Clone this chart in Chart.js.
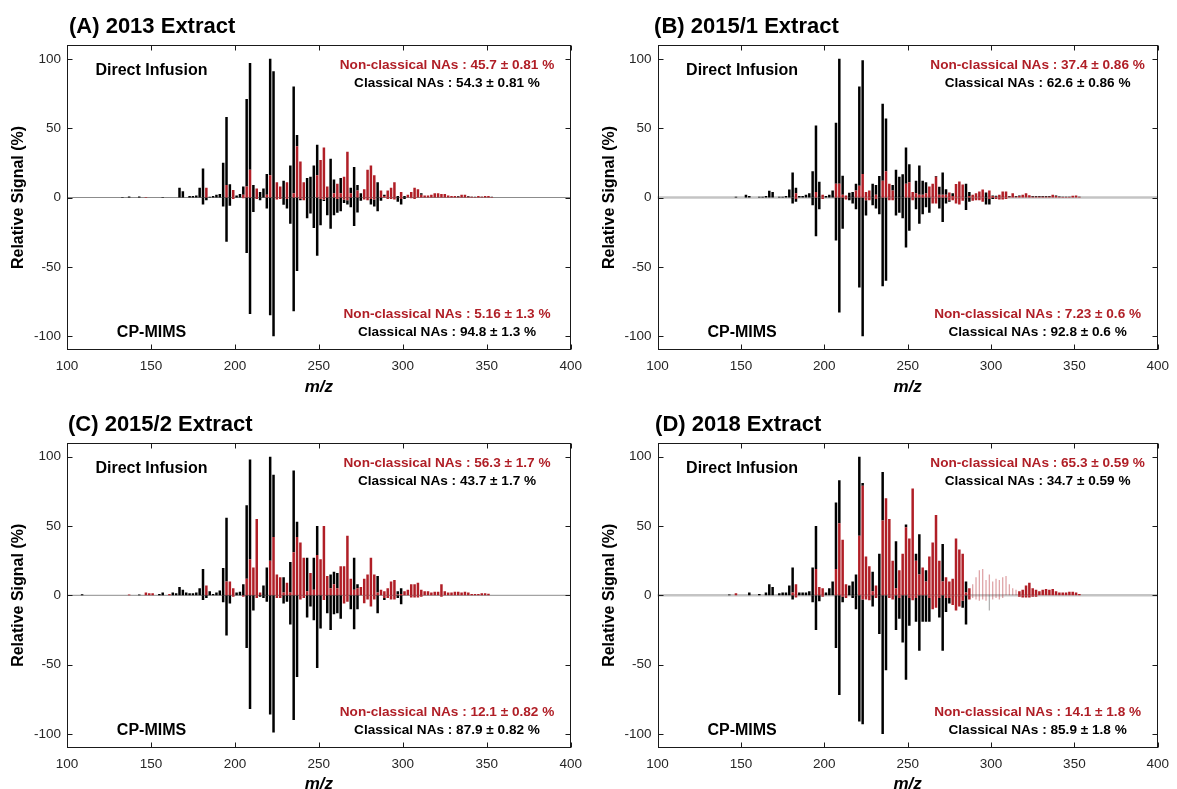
<!DOCTYPE html>
<html>
<head>
<meta charset="utf-8">
<script src="https://cdn.jsdelivr.net/npm/chart.js@4.4.1/dist/chart.umd.min.js"></script>
<style>
  html, body { margin: 0; padding: 0; background: #fff; }
  #wrap { position: relative; width: 1177px; height: 789px; overflow: hidden; }
  .panel { position: absolute; }
</style>
</head>
<body>
<div id="wrap">
  <div class="panel" style="left:0;top:0"><canvas id="chartA" width="590" height="397"></canvas></div>
  <div class="panel" style="left:590px;top:0"><canvas id="chartB" width="587" height="397"></canvas></div>
  <div class="panel" style="left:0;top:397px"><canvas id="chartC" width="590" height="392"></canvas></div>
  <div class="panel" style="left:590px;top:397px"><canvas id="chartD" width="587" height="392"></canvas></div>
</div>
<script>
// m/z grid (odd nominal masses)
const MZ = [
  107,109,111,113,115,117,119,121,123,125,
  127,129,131,133,135,137,139,141,143,145,
  147,149,151,153,155,157,159,161,163,165,
  167,169,171,173,175,177,179,181,183,185,
  187,189,191,193,195,197,199,201,203,205,
  207,209,211,213,215,217,219,221,223,225,
  227,229,231,233,235,237,239,241,243,245,
  247,249,251,253,255,257,259,261,263,265,
  267,269,271,273,275,277,279,281,283,285,
  287,289,291,293,295,297,299,301,303,305,
  307,309,311,313,315,317,319,321,323,325,
  327,329,331,333,335,337,339,341,343,345,
  347,349,351,353
];
const X_TICKS = [100, 150, 200, 250, 300, 350, 400];
const Y_TICKS = [-100, -50, 0, 50, 100];

// (A) 2013 - direct infusion (+) and CP-MIMS (-), non-classical (red) / classical (black)
const A_DI_NC = [
  0,0,0,0,0,0,0,0,0,0,
  0,0,0,0,0,0,0,0,0,0,
  0.4,0,0,0,0,0,0,0,0,0,
  0,0,0,0,0,0,0,0,7,0,
  0,0,0,0,9,0,5.5,0,0,2,
  8,20,0,6.5,0,0,2,16,0,11,
  8,0,11,0,3,37,26,11,0,0,
  0,16,27,36,8,0,3,10,3,15,
  33,3,0,5,0,6,20,23,16,0,
  5,1,5,7,11,0,4,0,2,4,
  7,6,2,1.5,1.5,2,3,3,2.5,2.5,
  1.5,1,1,0.5,2,2,0.5,0.5,0.3,1,
  0.5,1,1,0.3
];
const A_DI_C = [
  0,0,0,0,0,0,0,0,0,0,
  0,0,0,0.3,0,0.8,0,0,0.8,0,
  0,0,0,0,0,0.3,0,0,0,0,
  7,4.5,0,1,1,1.5,7,21,0,0.5,
  1,2,2.5,25,49,9.5,0,1.5,2.5,6,
  63,77,9,0,4,6.5,15,84,91,0,
  0,12,0,23,77,8,0,0,14,15,
  23,22,0,0,0,28,10,0,11,0,
  0,4,22,4,3,0,0,0,0,11,
  0,1,0,0,0,1,0,1,0,0,
  0,0,1,0,0,0,0,0,0,0,
  0,0,0,0.5,0,0,0.5,0.2,0.2,0,
  0.2,0,0,0.2
];
const A_CP_NC = [
  0,0,0,0,0,0,0,0,0,0,
  0,0,0,0,0,0,0,0,0,0,
  0,0,0,0,0,0,0,0,0,0,
  0,0,0,0,0,0,0,0,0,0,
  0,0,0,0,0,0,-1,0,0,-0.5,
  0,0,0,-1,0,0,0,0,0,-1.5,
  -1,0,-1,0,0,0,-1,-2,0,0,
  0,0,-1,-1.5,0,0,0,-1,0,-1.5,
  -2,0,0,0,0,-1.5,-2,-1,-1.5,0,
  0,0,-1,-1,-1.5,0,-1,0,0,-0.5,
  -1,0,0,0,0,0,0,0,0,0,
  0,0,0,0,0,0,0,0,0,0,
  0,0,0,0
];
const A_CP_C = [
  0,0,0,0,0,0,0,0,0,0,
  0,0,0,0,0,0,0,0,0,0,
  0,0,0,0,0,0,0,0,0,0,
  0,0,0,0,0,0,0,-5,-2,0,
  0,0,0,-6.5,-32,-6,0,0,0,0,
  -40,-84,-10.5,0,-2,0,-8,-85,-100,0,
  0,-5.3,-7,-19,-82,-53,-1,0,-15,-11.6,
  -22,-42,-19,-1,-12.8,-22.5,-12.8,-10,-10,-2.4,
  -3,-7,-20.5,-10.9,-2.4,0,0,-4,-5,-10,
  -2.4,0,0,0,0,-3,-4,-1,0,0,
  0,0,0,0,0,0,0,0,0,0,
  0,0,0,0,0,0,0,0,0,0,
  0,0,0,0
];

// (B) 2015/1
const B_DI_NC = [
  0,0,0,0,0,0,0,0,0,0,
  0,0,0,0,0,0,0,0,0,0,
  0,0,0,0,0,0,0,0,0,0,
  0,0,0,0,0,0,0,0,3,0,
  0,0,0,0,4,0,2,0,0,0,
  10,10,2,1.5,0,0,5,8.5,17,4,
  5,0,2,0,12,19,10,5,0,0,
  0,10,11,4,3,2,2,3,8,10,
  15,2,2,2,3.6,1,9.7,11.6,9.4,0,
  1,2,3,4.3,5.8,0,5,1,0.5,2,
  4.3,4.3,0.5,3,0.5,1,2,3,1.7,0.5,
  0.5,0.5,0.5,0.5,0.5,2,1,0.3,0.3,0.3,
  0.3,1.2,1.5,0.3
];
const B_DI_C = [
  0,0,0,0,0,0,0,0,0,0,
  0,0,0,0,0,0,0,0,0,0,
  0.5,0,0,2,1,0,0,0.5,0.5,1,
  4.8,4,0,0.5,0.5,1,5.8,18,4,1,
  1,2,3,19,48,11.4,0,1,2,5,
  44,90,13.7,0,3.5,4,5,71.5,82,0,
  0,10,7,15.5,55.6,38,0,4,20,15,
  16.7,26,13,0,9,21,10,8,0,0,
  0.5,5.7,16,4,0,2,0,0,0,10,
  3,0,0,0,0,3.6,0,0.5,0.7,0,
  0,0,0.5,0,0.5,0.5,0,0,0,0.5,
  0.5,0.5,0.5,0.5,0.5,0,0.5,0.4,0.2,0.2,
  0.2,0,0,0.2
];
const B_CP_NC = [
  0,0,0,0,0,0,0,0,0,0,
  0,0,0,0,0,0,0,0,0,0,
  0,0,0,0,0,0,0,0,0,0,
  0,0,0,0,0,0,0,0,-1,0,
  0,0,0,0,0,0,-1,0,0,0,
  0,0,0,-1.5,0,0,0,0,0,-2,
  -2,0,-1,0,0,0,-2,-2,0,0,
  0,0,0,-2,0,0,0,0,0,-4.3,
  -4.3,0,0,0,-2,-2,-4.3,-5,-2.4,0,
  0,-2.4,-2,-2,-3,0,-1,0,-1,-1.5,
  -1.5,-1,0,0,0,0,0,0,0,0,
  0,0,0,0,0,0,0,0,0,0,
  0,0,0,0
];
const B_CP_C = [
  0,0,0,0,0,0,0,0,0,0,
  0,0,0,0,0,0,0,0,0,0,
  0,0,0,0,0,0,0,0,0,0,
  0,0,0,0,0,0,0,-4.3,-2,0,
  0,0,0,-5.5,-28,-8.5,0,0,0,0,
  -31,-83,-22.5,0,-2,-4.3,-8.5,-65,-100,-11,
  0,-5.5,-7,-12,-64,-60,0,0,-13,-11,
  -15,-36,-24,0,-8.5,-19,-12,-7,-11,0,
  0,-8,-17.6,-4.3,-1,0,0,0,0,-9,
  -3,0,0,0,0,-5,-4,-1,0,0,
  0,0,0,0,0,0,0,0,0,0,
  0,0,0,0,0,0,0,0,0,0,
  0,0,0,0
];

// (C) 2015/2
const C_DI_NC = [
  0,0,0,0,0,0,0,0,0,0,
  0,0,0,0,0,0.5,0,0,0,0,
  2,1.5,1.5,0,0,0,0,1,0,0,
  0,0,0,0,0,0,0,0,7,0,
  0,0,0,0,10,10,5,0,0,0,
  12,26,20,55,2,0,0,25,42,15,
  13,2,9,2,31,42,38,27,3,16,
  4,29,26,50,14,5,8,5,21,21,
  43,12,4,5,6,12,15,27,15,2,
  4,3,5,10,11,0.5,1,3,4,8,
  8,9,4,3,3,2,2.5,2.5,8,3,
  2,2,2.5,2.5,2,2.5,2,1,1,1,
  1.5,1.5,1.2,0
];
const C_DI_C = [
  0,0.8,0,0,0,0,0,0,0,0,
  0,0,0,0,0,0,0,0,0.5,0,
  0,0,0,0,1,2,0,0,2,1.5,
  6,4,2,1.5,1.5,2,5,19,0,3,
  1,2,3.5,19.7,46,0,0,2,2.5,8,
  53,72,0,0,0,7,20,75,45,0,
  0,11,0,22,59,11,0,0,24,0,
  23,21,0,0,0,10,9,11,0,0,
  0,0,23,3,0,0,0,0,0,12,
  0,0,0,0,0,2.5,4,0,0,0,
  0,0,0,0,0,0,0,0,0,0,
  0,0,0,0,0,0,0,0,0,0,
  0,0,0,0
];
const C_CP_NC = [
  0,0,0,0,0,0,0,0,0,0,
  0,0,0,0,0,0,0,0,0,0,
  0,0,0,0,0,0,0,0,0,0,
  0,0,0,0,0,0,0,0,0,0,
  0,0,0,0,0,0,-1,0,0,-1,
  0,0,0,-2,0,0,0,0,0,-2,
  -2,0,0,0,0,0,-3,-2,0,0,
  0,0,0,-3.4,0,0,0,0,0,-6,
  -4.6,0,0,0,0,-5.7,-3,-8,-3,0,
  0,-2,-2,-3,-3,0,0,0,0,-1.5,
  -1.5,-1.5,-1,0,0,0,0,0,-1,0,
  0,0,0,0,0,0,0,0,0,0,
  0,0,0,0
];
const C_CP_C = [
  0,0,0,0,0,0,0,0,0,0,
  0,0,0,0,0,0,0,0,0,0,
  0,0,0,0,0,0,0,0,0,0,
  0,0,0,0,0,0,0,-3.4,-2,0,
  0,0,0,-5,-29,-6,0,0,0,0,
  -38,-82,-11,0,-1,-2,-4.6,-86,-99,0,
  0,-6,-4.6,-21,-90,-59,0,0,-16,-8,
  -18,-52.5,-24,0,-13,-25,-13.7,-13,-17,0,
  0,-10,-24.5,-10,0,0,0,0,0,-13,
  0,-1.4,0,0,0,-2,-6.5,0,0,0,
  0,0,0,0,0,0,0,0,0,0,
  0,0,0,0,0,0,0,0,0,0,
  0,0,0,0
];

// (D) 2018
const D_DI_NC = [
  0,0,0,0,0,0,0,0,0,0,
  0,0,0,0,0,0,0,0,0,0,
  1.5,0,0,0,0,0,0,0,0,0,
  0,0,0,0,0,0,0,2,8,0,
  0,0,0,0,19,6,5,0,0,0,
  19,52,40,8,0,0,0,43,79,28,
  21,3,7,0,54,70,55,25,5,18,
  30,49,41,77,25,15,20,10,28,38,
  58,25,10,13,10,12,41,33,30,2,
  5,0,0,0,0,0,0,0,0,0,
  0,0,0,0,0,3,4,7,9,5,
  4,3,4,4.5,4,4.5,3,2,2,2,
  2.5,2.5,2,1
];
const D_DI_C = [
  0,0,0,0,0,0,0,0,0,0,
  0,0,0,0,0,0,0,0,0.5,0,
  0,0,0,0,2,0,0,1,0,2,
  8,6,0,1.5,2,2,7,18,0,2,
  2,2,3,20,31,0,0,2,5,10,
  48,31,0,0,7,10,15,57,2,0,
  0,14,0,30,35,0,0,0,34,0,
  0,2,0,0,5,29,0,8,0,0,
  0,0,27,0,0,0,0,0,0,8,
  0,0,0,0,0,0,0,0,0,0,
  0,0,0,0,0,0,0,0,0,0,
  0,0,0,0,0,0,0,0,0,0,
  0,0,0,0
];
const D_CP_NC = [
  0,0,0,0,0,0,0,0,0,0,
  0,0,0,0,0,0,0,0,0,0,
  0,0,0,0,0,0,0,0,0,0,
  0,0,0,0,0,0,0,0,-1.5,0,
  0,0,0,0,0,0,-1,0,0,0,
  0,0,-1,-2,0,0,0,0,-3,-3,
  -3.6,0,-2,0,0,0,-2,-3,0,-2,
  0,0,-2,-3.6,-2,0,0,0,-2,-10,
  -9,-2,0,-2,-2,-7,-11,-8,-4,0,
  -3,0,0,0,0,0,0,0,0,0,
  0,0,0,0,0,-1,-1.5,-1.5,-1.5,-1,
  -1,0,0,0,0,0,0,0,0,0,
  0,0,0,0
];
const D_CP_C = [
  0,0,0,0,0,0,0,0,0,0,
  0,0,0,0,0,0,0,0,0,0,
  0,0,0,0,0,0,0,0,0,0,
  0,0,0,0,0,0,0,-3,0,0,
  0,0,0,-5,-25,-4.3,0,0,0,0,
  -38,-72,-4,0,0,-2,-10,-91,-90,0,
  0,-8,0,-28,-100,-54,0,0,-25,-15,
  -34,-61,-20,0,-17,-40,-19,-19,-17,0,
  0,-14,-40,-10,-4,0,0,0,-5,-21,
  0,0,0,0,0,0,0,0,0,0,
  0,0,0,0,0,0,0,0,0,0,
  0,0,0,0,0,0,0,0,0,0,
  0,0,0,0
];
// pale peaks in (D), m/z 289-315
const D_DI_PALE = [
  0,0,0,0,0,0,0,0,0,0,
  0,0,0,0,0,0,0,0,0,0,
  0,0,0,0,0,0,0,0,0,0,
  0,0,0,0,0,0,0,0,0,0,
  0,0,0,0,0,0,0,0,0,0,
  0,0,0,0,0,0,0,0,0,0,
  0,0,0,0,0,0,0,0,0,0,
  0,0,0,0,0,0,0,0,0,0,
  0,0,0,0,0,0,0,0,0,0,
  0,8,13,18,19,11,15,10,12,11,
  13,14,8,5,4,0,0,0,0,0,
  0,0,0,0,0,0,0,0,0,0,
  0,0,0,0
];
const D_CP_PALE = [
  0,0,0,0,0,0,0,0,0,0,
  0,0,0,0,0,0,0,0,0,0,
  0,0,0,0,0,0,0,0,0,0,
  0,0,0,0,0,0,0,0,0,0,
  0,0,0,0,0,0,0,0,0,0,
  0,0,0,0,0,0,0,0,0,0,
  0,0,0,0,0,0,0,0,0,0,
  0,0,0,0,0,0,0,0,0,0,
  0,0,0,0,0,0,0,0,0,0,
  0,-2,-3,-4,-3,-4,0,-3,-2,-3,
  -2,0,0,0,0,0,0,0,0,0,
  0,0,0,0,0,0,0,0,0,0,
  0,0,0,0
];
const D_CP_PALE_C = [
  0,0,0,0,0,0,0,0,0,0,
  0,0,0,0,0,0,0,0,0,0,
  0,0,0,0,0,0,0,0,0,0,
  0,0,0,0,0,0,0,0,0,0,
  0,0,0,0,0,0,0,0,0,0,
  0,0,0,0,0,0,0,0,0,0,
  0,0,0,0,0,0,0,0,0,0,
  0,0,0,0,0,0,0,0,0,0,
  0,0,0,0,0,0,0,0,0,0,
  0,0,0,0,0,0,-11,0,0,0,
  0,0,0,0,0,0,0,0,0,0,
  0,0,0,0,0,0,0,0,0,0,
  0,0,0,0
];

const FONT = '"Liberation Sans", Arial, Helvetica, sans-serif';
const RED = '#b01e26';
const RED_PALE = 'rgba(176, 30, 38, 0.4)';
const BLACK_PALE = 'rgba(0, 0, 0, 0.3)';

const PANELS = [
  { id: 'chartA', title: '(A) 2013 Extract', titleDx: 2,
    series: [A_DI_NC, A_DI_C, A_CP_NC, A_CP_C],
    notes: ['Non-classical NAs : 45.7 ± 0.81 %', 'Classical NAs : 54.3 ± 0.81 %',
            'Non-classical NAs : 5.16 ± 1.3 %', 'Classical NAs : 94.8 ± 1.3 %'],
    zero: ['#8c8c8c', 1], yWidth: 67, padTop: 45, padRight: 17.5, xHeight: 47 },
  { id: 'chartB', title: '(B) 2015/1 Extract', titleDx: -3.5,
    series: [B_DI_NC, B_DI_C, B_CP_NC, B_CP_C],
    notes: ['Non-classical NAs : 37.4 ± 0.86 %', 'Classical NAs : 62.6 ± 0.86 %',
            'Non-classical NAs : 7.23 ± 0.6 %', 'Classical NAs : 92.8 ± 0.6 %'],
    zero: ['#c4c4c4', 2.5], yWidth: 67.6, padTop: 45, padRight: 15, xHeight: 47 },
  { id: 'chartC', title: '(C) 2015/2 Extract', titleDx: 1,
    series: [C_DI_NC, C_DI_C, C_CP_NC, C_CP_C],
    notes: ['Non-classical NAs : 56.3 ± 1.7 %', 'Classical NAs : 43.7 ± 1.7 %',
            'Non-classical NAs : 12.1 ± 0.82 %', 'Classical NAs : 87.9 ± 0.82 %'],
    zero: ['#8c8c8c', 1], yWidth: 67, padTop: 45.8, padRight: 17.5, xHeight: 41.2 },
  { id: 'chartD', title: '(D) 2018 Extract', titleDx: -2.5,
    series: [D_DI_NC, D_DI_C, D_CP_NC, D_CP_C],
    pale: [D_DI_PALE, D_CP_PALE, D_CP_PALE_C],
    notes: ['Non-classical NAs : 65.3 ± 0.59 %', 'Classical NAs : 34.7 ± 0.59 %',
            'Non-classical NAs : 14.1 ± 1.8 %', 'Classical NAs : 85.9 ± 1.8 %'],
    zero: ['#c4c4c4', 2.5], yWidth: 67.6, padTop: 45.8, padRight: 15, xHeight: 41.2 }
];

function points(vals) {
  return MZ.map((m, i) => ({ x: m, y: vals[i] })).filter(p => p.y !== 0);
}

const panelDeco = {
  id: 'panelDeco',
  beforeDatasetsDraw(chart, args, o) {
    const { ctx, chartArea: a, scales: { y } } = chart;
    const y0 = y.getPixelForValue(0);
    ctx.save();
    ctx.strokeStyle = o.zero[0];
    ctx.lineWidth = o.zero[1];
    ctx.beginPath();
    ctx.moveTo(a.left, y0);
    ctx.lineTo(a.right, y0);
    ctx.stroke();
    ctx.restore();
  },
  afterDraw(chart, args, o) {
    const { ctx, chartArea: a, scales: { x, y } } = chart;
    const L = Math.round(a.left) + 0.5, R = Math.round(a.right) - 0.5;
    const T = Math.round(a.top) + 0.5, B = Math.round(a.bottom) - 0.5;
    ctx.save();
    ctx.strokeStyle = '#1a1a1a';
    ctx.lineWidth = 1;
    ctx.strokeRect(L, T, R - L, B - T);
    ctx.beginPath();
    X_TICKS.forEach(v => {
      const px = Math.round(x.getPixelForValue(v)) + 0.5;
      ctx.moveTo(px, B); ctx.lineTo(px, B - 5);
      ctx.moveTo(px, T); ctx.lineTo(px, T + 5);
    });
    Y_TICKS.forEach(v => {
      const py = Math.round(y.getPixelForValue(v)) + 0.5;
      ctx.moveTo(L, py); ctx.lineTo(L + 5, py);
      ctx.moveTo(R, py); ctx.lineTo(R - 5, py);
    });
    ctx.stroke();

    ctx.textBaseline = 'middle';
    ctx.fillStyle = '#000';
    ctx.font = `bold 22px ${FONT}`;
    ctx.textAlign = 'left';
    ctx.fillText(o.title, a.left + o.titleDx, a.top - 18);

    ctx.textAlign = 'center';
    ctx.font = `bold 16px ${FONT}`;
    ctx.fillText('Direct Infusion', a.left + 84.5, a.top + 26);
    ctx.fillText('CP-MIMS', a.left + 84.5, a.bottom - 17);

    const cx = a.left + 380;
    ctx.font = `bold 13.6px ${FONT}`;
    ctx.fillStyle = RED;
    ctx.fillText(o.notes[0], cx, a.top + 20);
    ctx.fillStyle = '#000';
    ctx.fillText(o.notes[1], cx, a.top + 38);
    ctx.fillStyle = RED;
    ctx.fillText(o.notes[2], cx, a.bottom - 36);
    ctx.fillStyle = '#000';
    ctx.fillText(o.notes[3], cx, a.bottom - 18);

    ctx.font = `bold 16px ${FONT}`;
    ctx.save();
    ctx.translate(a.left - 48, (a.top + a.bottom) / 2);
    ctx.rotate(-Math.PI / 2);
    ctx.fillText('Relative Signal (%)', 0, 0);
    ctx.restore();

    ctx.font = `italic bold 17px ${FONT}`;
    ctx.fillText('m/z', (a.left + a.right) / 2, a.bottom + 37);
    ctx.restore();
  }
};

function buildPanel(p) {
  const [diNc, diC, cpNc, cpC] = p.series;
  const bar = (label, vals, color, w) => ({
    label, data: points(vals), backgroundColor: color,
    barThickness: w || 2.5, borderWidth: 0, inflateAmount: 0
  });
  const datasets = [
    bar('DI non-classical', diNc, RED),
    bar('DI classical', diC, '#000'),
    bar('CP-MIMS non-classical', cpNc, RED),
    bar('CP-MIMS classical', cpC, '#000')
  ];
  if (p.pale) {
    datasets.push(bar('DI pale', p.pale[0], RED_PALE, 1.3));
    datasets.push(bar('CP pale', p.pale[1], RED_PALE, 1.3));
    datasets.push(bar('CP pale classical', p.pale[2], BLACK_PALE, 1.3));
  }
  const tickFont = { family: FONT, size: 13.5 };
  new Chart(document.getElementById(p.id), {
    type: 'bar',
    data: { datasets },
    options: {
      responsive: false,
      animation: false,
      layout: { padding: { top: p.padTop, right: p.padRight, left: 0, bottom: 0 } },
      plugins: {
        legend: { display: false },
        tooltip: { enabled: false },
        panelDeco: { title: p.title, titleDx: p.titleDx, notes: p.notes, zero: p.zero }
      },
      scales: {
        x: {
          type: 'linear', min: 100, max: 400, offset: false, stacked: true,
          afterBuildTicks: s => { s.ticks = X_TICKS.map(v => ({ value: v })); },
          afterFit: s => { s.height = p.xHeight; },
          grid: { display: false, drawTicks: false, offset: false },
          border: { display: false },
          ticks: { padding: 8, color: '#262626', font: tickFont, maxRotation: 0 }
        },
        y: {
          type: 'linear', min: -110, max: 110, stacked: true,
          afterBuildTicks: s => { s.ticks = Y_TICKS.map(v => ({ value: v })); },
          afterFit: s => { s.width = p.yWidth; },
          grid: { display: false, drawTicks: false },
          border: { display: false },
          ticks: { padding: 6, color: '#262626', font: tickFont }
        }
      }
    },
    plugins: [panelDeco]
  });
}

PANELS.forEach(buildPanel);
</script>
</body>
</html>
